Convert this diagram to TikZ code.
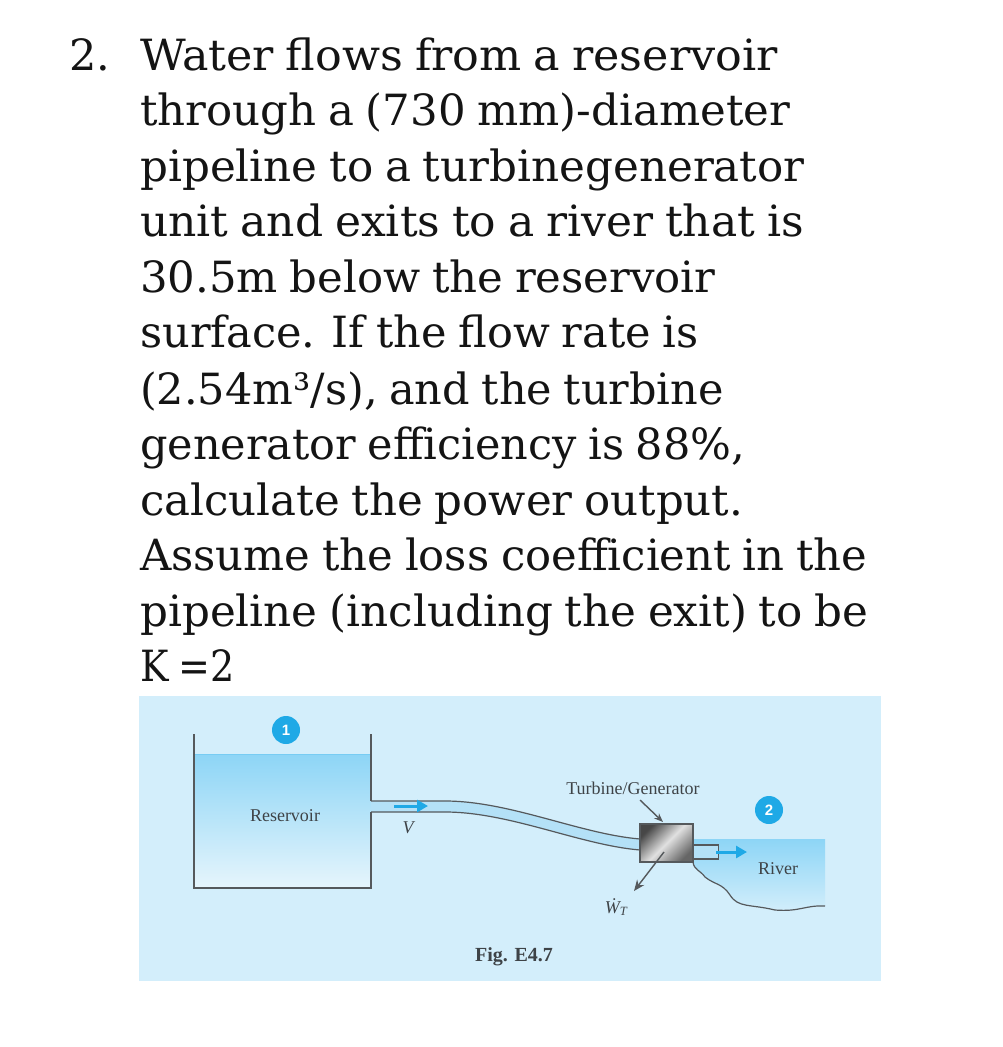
\documentclass[tikz,border=0pt]{standalone}
\usepackage{fontspec}
\setmainfont[WordSpace=0.85]{DejaVu Serif}
\newfontfamily\figfont{Liberation Serif}
\newfontfamily\badgefont{Liberation Sans}
\usetikzlibrary{arrows.meta}
\definecolor{panel}{HTML}{D3EEFB}
\definecolor{watertop}{HTML}{8DD5F6}
\definecolor{waterbot}{HTML}{E6F5FC}
\definecolor{pipefill}{HTML}{B4E1F7}
\definecolor{wall}{HTML}{55595C}
\definecolor{flow}{HTML}{1FA9E6}
\definecolor{figtext}{HTML}{3E4347}
\tikzset{
  qline/.style={anchor=base west,inner sep=0pt,text=black!92,font=\fontsize{43}{43}\selectfont,xscale=#1,transform shape},
  qline/.default=1,
  figlabel/.style={inner sep=0pt,text=figtext,font=\figfont\fontsize{18}{18}\selectfont},
  wallline/.style={draw=wall,line width=1.5pt},
  pipeline/.style={draw=wall,line width=1.2pt},
  flowarrow/.style={draw=flow,line width=3pt,-{Triangle[length=11pt,width=12pt]}},
  leader/.style={draw=wall,line width=1.4pt},
  badge/.style={circle,fill=flow,text=white,minimum size=28pt,inner sep=0pt,font=\badgefont\bfseries\fontsize{15}{15}\selectfont}
}
\begin{document}
\begin{tikzpicture}[x=1pt,y=-1pt]
\useasboundingbox (0,0) rectangle (1003,1047);
\fill[white] (0,0) rectangle (1003,1047);
\node[qline] (n) at (69,70) {2.};
\node[qline=1.034] (l1) at (140,70) {Water flows from a reservoir};
\node[qline=1.011] (l2) at (140,125.5) {through a (730 mm)-diameter};
\node[qline=1.015] (l3) at (140,181) {pipeline to a turbinegenerator};
\node[qline=1.023] (l4) at (140,236.5) {unit and exits to a river that is};
\node[qline=1.01] (l5) at (140,292) {30.5m below the reservoir};
\node[qline=1.002] (l6) at (140,347.5) {surface. If the flow rate is};
\node[qline] (l7) at (140,404) {(2.54m³/s), and the turbine};
\node[qline] (l8) at (140,459.5) {generator efficiency is 88\%,};
\node[qline=1.012] (l9) at (140,515) {calculate the power output.};
\node[qline=1.008] (l10) at (140,570.5) {Assume the loss coefficient in the};
\node[qline=1.015] (l11) at (140,626) {pipeline (including the exit) to be};
\node[qline=0.886] (l12) at (140,681.5) {K =2};
% panel
\fill[panel] (139,696) rectangle (881,981);
% reservoir water
\shade[top color=watertop,bottom color=waterbot] (194,754) rectangle (371,888);
\draw[watertop!80!flow,line width=1pt] (194,754) -- (372,754);
% pipe
\fill[pipefill] (371,801) -- (445,801) .. controls (510,801) and (580,834) .. (640,839) -- (640,850) .. controls (580,845) and (510,812) .. (445,812) -- (371,812) -- cycle;
\draw[pipeline] (371,801) -- (445,801) .. controls (510,801) and (580,834) .. (640,839);
\draw[pipeline] (371,812) -- (445,812) .. controls (510,812) and (580,845) .. (640,850);
\draw[wallline,line join=miter] (194,734) -- (194,888) -- (371,888) -- (371,812);
\draw[wallline] (371,801) -- (371,734);
% river
\shade[top color=watertop,bottom color=panel] (693,839) -- (825,839) -- (825,906) .. controls (805,905) and (800,912) .. (775,910) .. controls (750,904) and (738,908) .. (730,895) .. controls (722,883) and (715,885) .. (705,877) .. controls (700,870) and (694,870) .. (693,862) -- cycle;
\draw[wall,line width=1.2pt] (693,862) .. controls (694,870) and (700,870) .. (705,877) .. controls (715,885) and (722,883) .. (730,895) .. controls (738,908) and (750,904) .. (775,910) .. controls (800,912) and (805,905) .. (825,906);
% outlet
\node[draw=wall,line width=1.2pt,fill=pipefill,minimum width=25.5pt,minimum height=14pt,inner sep=0pt] (outlet) at (705.75,852) {};
% turbine
\node[draw=wall,line width=1.6pt,minimum width=53pt,minimum height=38pt,inner sep=0pt,
  path picture={\shade[left color=black!72,right color=black!60,middle color=black!12,shading angle=45] (path picture bounding box.south west) rectangle (path picture bounding box.north east);}] (turb) at (666.5,843) {};
% flow arrows
\coordinate (va) at (394,806);
\coordinate (vb) at (428,806);
\draw[flowarrow] (va) -- (vb);
\coordinate (ra) at (716,852);
\coordinate (rb) at (747,852);
\draw[flowarrow] (ra) -- (rb);
% labels
\node[badge] (b1) at (286,730) {1};
\node[badge] (b2) at (769,810) {2};
\node[figlabel] (res) at (285,816) {Reservoir};
\node[figlabel,font=\figfont\itshape\fontsize{18}{18}\selectfont] (v) at (408,828) {V};
\node[figlabel] (tg) at (633,788) {Turbine/Generator};
\node[figlabel] (riv) at (778,869) {River};
\node[figlabel,font=\figfont\bfseries\fontsize{20}{20}\selectfont] (fig) at (514,957) {Fig. E4.7};
\node[figlabel,font=\figfont\itshape\fontsize{18}{18}\selectfont] (wt) at (616,907) {Ẇ\textsubscript{T}};
% leaders
\coordinate (lead1) at (640,800);
\coordinate (lead2) at (663,822);
\draw[leader,-{Stealth[length=9pt,width=7pt]}] (lead1) -- (lead2);
\coordinate (wa) at (664,852);
\coordinate (wb) at (634,891);
\draw[leader,-{Stealth[length=11pt,width=9pt]}] (wa) -- (wb);
\end{tikzpicture}
\end{document}
